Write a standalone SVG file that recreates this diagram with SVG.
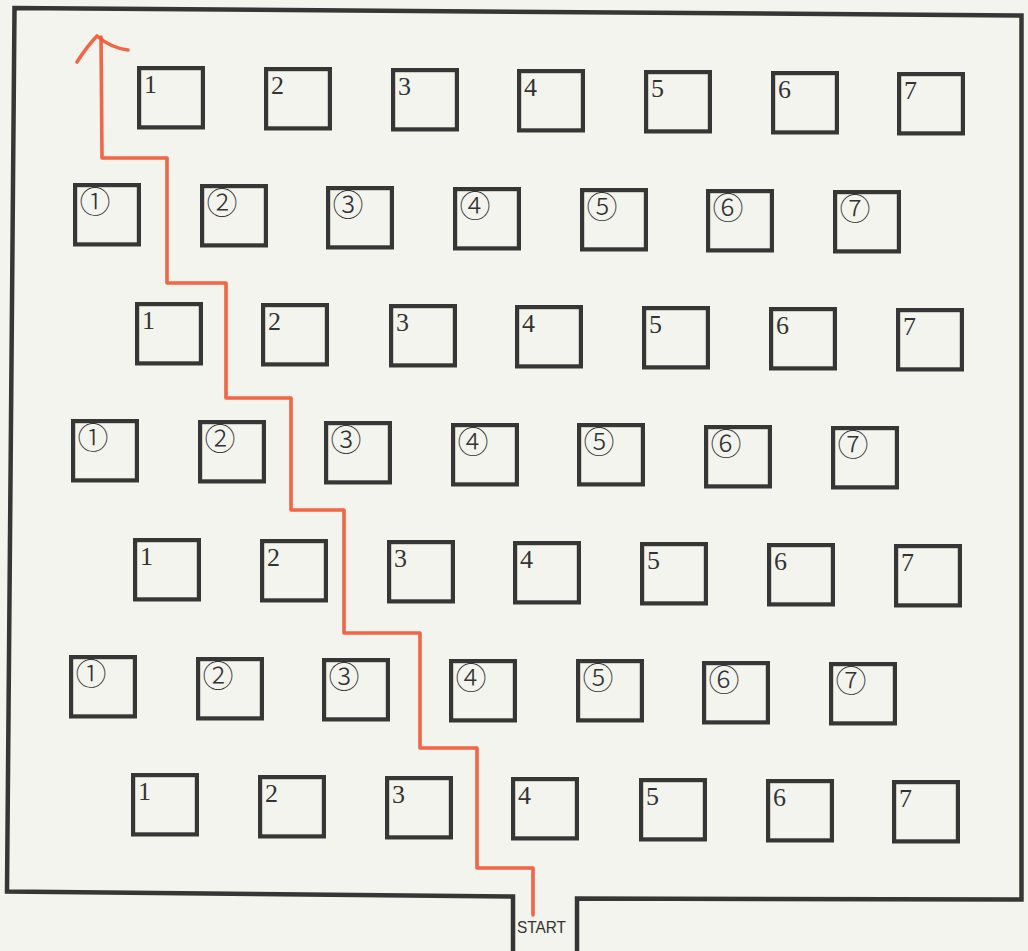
<svg xmlns="http://www.w3.org/2000/svg" width="1028" height="951" viewBox="0 0 1028 951">
<style>
.b{fill:none;stroke:#363636;stroke-width:4.2}
.n{font-family:"Liberation Serif","DejaVu Serif",serif;font-size:26px;fill:#333}
.c{font-family:"Noto Sans CJK JP","DejaVu Sans",sans-serif;font-size:31px;font-weight:300;fill:#333;text-anchor:middle}
.wall{fill:none;stroke:#363636;stroke-width:4.5;stroke-linejoin:miter}
.route{fill:none;stroke:#f05a36;stroke-width:3.6;stroke-linejoin:round;stroke-linecap:round;opacity:0.92}
</style>
<defs>
<rect id="bx" class="b" x="2.1" y="2.1" width="63.8" height="59.3"/>
</defs>
<rect x="0" y="0" width="1028" height="951" fill="#f4f4ee"/>
<g id="walls">
<path class="wall" d="M513,951 L513,896.5 L7,891.5 L14.5,8 L1021.5,15.5 L1021.5,899.5 L577,898.5 L577,951"/>
<text x="517" y="932.5" font-family="'Liberation Sans',Arial,sans-serif" font-size="17" fill="#333" textLength="49" lengthAdjust="spacingAndGlyphs">START</text>
</g>
<!-- Row 1 -->
<g id="r1c1" transform="translate(137,66)"><use href="#bx"/><text class="n" x="7" y="27">1</text></g>
<g id="r1c2" transform="translate(264,67)"><use href="#bx"/><text class="n" x="7" y="27">2</text></g>
<g id="r1c3" transform="translate(391,68)"><use href="#bx"/><text class="n" x="7" y="27">3</text></g>
<g id="r1c4" transform="translate(517,69)"><use href="#bx"/><text class="n" x="7" y="27">4</text></g>
<g id="r1c5" transform="translate(644,70)"><use href="#bx"/><text class="n" x="7" y="27">5</text></g>
<g id="r1c6" transform="translate(771,71)"><use href="#bx"/><text class="n" x="7" y="27">6</text></g>
<g id="r1c7" transform="translate(897,72)"><use href="#bx"/><text class="n" x="7" y="27">7</text></g>
<!-- Row 2 -->
<g id="r2c1" transform="translate(73,183)"><use href="#bx"/><text class="c" x="22" y="30">①</text></g>
<g id="r2c2" transform="translate(200,184)"><use href="#bx"/><text class="c" x="22" y="30">②</text></g>
<g id="r2c3" transform="translate(326,186)"><use href="#bx"/><text class="c" x="22" y="30">③</text></g>
<g id="r2c4" transform="translate(453,187)"><use href="#bx"/><text class="c" x="22" y="30">④</text></g>
<g id="r2c5" transform="translate(580,188)"><use href="#bx"/><text class="c" x="22" y="30">⑤</text></g>
<g id="r2c6" transform="translate(706,189)"><use href="#bx"/><text class="c" x="22" y="30">⑥</text></g>
<g id="r2c7" transform="translate(833,190)"><use href="#bx"/><text class="c" x="22" y="30">⑦</text></g>
<!-- Row 3 -->
<g id="r3c1" transform="translate(135,302)"><use href="#bx"/><text class="n" x="7" y="27">1</text></g>
<g id="r3c2" transform="translate(261,303)"><use href="#bx"/><text class="n" x="7" y="27">2</text></g>
<g id="r3c3" transform="translate(389,304)"><use href="#bx"/><text class="n" x="7" y="27">3</text></g>
<g id="r3c4" transform="translate(515,305)"><use href="#bx"/><text class="n" x="7" y="27">4</text></g>
<g id="r3c5" transform="translate(642,306)"><use href="#bx"/><text class="n" x="7" y="27">5</text></g>
<g id="r3c6" transform="translate(769,307)"><use href="#bx"/><text class="n" x="7" y="27">6</text></g>
<g id="r3c7" transform="translate(896,308)"><use href="#bx"/><text class="n" x="7" y="27">7</text></g>
<!-- Row 4 -->
<g id="r4c1" transform="translate(71,419)"><use href="#bx"/><text class="c" x="22" y="30">①</text></g>
<g id="r4c2" transform="translate(198,420)"><use href="#bx"/><text class="c" x="22" y="30">②</text></g>
<g id="r4c3" transform="translate(324,421)"><use href="#bx"/><text class="c" x="22" y="30">③</text></g>
<g id="r4c4" transform="translate(451,423)"><use href="#bx"/><text class="c" x="22" y="30">④</text></g>
<g id="r4c5" transform="translate(577,423)"><use href="#bx"/><text class="c" x="22" y="30">⑤</text></g>
<g id="r4c6" transform="translate(704,425)"><use href="#bx"/><text class="c" x="22" y="30">⑥</text></g>
<g id="r4c7" transform="translate(831,426)"><use href="#bx"/><text class="c" x="22" y="30">⑦</text></g>
<!-- Row 5 -->
<g id="r5c1" transform="translate(133,538)"><use href="#bx"/><text class="n" x="7" y="27">1</text></g>
<g id="r5c2" transform="translate(260,539)"><use href="#bx"/><text class="n" x="7" y="27">2</text></g>
<g id="r5c3" transform="translate(387,540)"><use href="#bx"/><text class="n" x="7" y="27">3</text></g>
<g id="r5c4" transform="translate(513,541)"><use href="#bx"/><text class="n" x="7" y="27">4</text></g>
<g id="r5c5" transform="translate(640,542)"><use href="#bx"/><text class="n" x="7" y="27">5</text></g>
<g id="r5c6" transform="translate(767,543)"><use href="#bx"/><text class="n" x="7" y="27">6</text></g>
<g id="r5c7" transform="translate(894,544)"><use href="#bx"/><text class="n" x="7" y="27">7</text></g>
<!-- Row 6 -->
<g id="r6c1" transform="translate(69,655)"><use href="#bx"/><text class="c" x="22" y="30">①</text></g>
<g id="r6c2" transform="translate(196,657)"><use href="#bx"/><text class="c" x="22" y="30">②</text></g>
<g id="r6c3" transform="translate(322,658)"><use href="#bx"/><text class="c" x="22" y="30">③</text></g>
<g id="r6c4" transform="translate(449,659)"><use href="#bx"/><text class="c" x="22" y="30">④</text></g>
<g id="r6c5" transform="translate(576,659)"><use href="#bx"/><text class="c" x="22" y="30">⑤</text></g>
<g id="r6c6" transform="translate(702,661)"><use href="#bx"/><text class="c" x="22" y="30">⑥</text></g>
<g id="r6c7" transform="translate(829,662)"><use href="#bx"/><text class="c" x="22" y="30">⑦</text></g>
<!-- Row 7 -->
<g id="r7c1" transform="translate(131,773)"><use href="#bx"/><text class="n" x="7" y="27">1</text></g>
<g id="r7c2" transform="translate(258,775)"><use href="#bx"/><text class="n" x="7" y="27">2</text></g>
<g id="r7c3" transform="translate(385,776)"><use href="#bx"/><text class="n" x="7" y="27">3</text></g>
<g id="r7c4" transform="translate(511,777)"><use href="#bx"/><text class="n" x="7" y="27">4</text></g>
<g id="r7c5" transform="translate(639,778)"><use href="#bx"/><text class="n" x="7" y="27">5</text></g>
<g id="r7c6" transform="translate(766,779)"><use href="#bx"/><text class="n" x="7" y="27">6</text></g>
<g id="r7c7" transform="translate(892,780)"><use href="#bx"/><text class="n" x="7" y="27">7</text></g>
<g id="connectors">
<path class="route" d="M533,915 L533,868 L477,868 L477,748 L420,748 L420,633 L344,633 L344,510 L291,510 L291,398 L226,398 L226,283 L167,283 L167,158 L102,158 L101,37"/>
<path class="route" d="M77,62 Q88,45 97,36 Q111,48 128,50"/>
</g>
</svg>
